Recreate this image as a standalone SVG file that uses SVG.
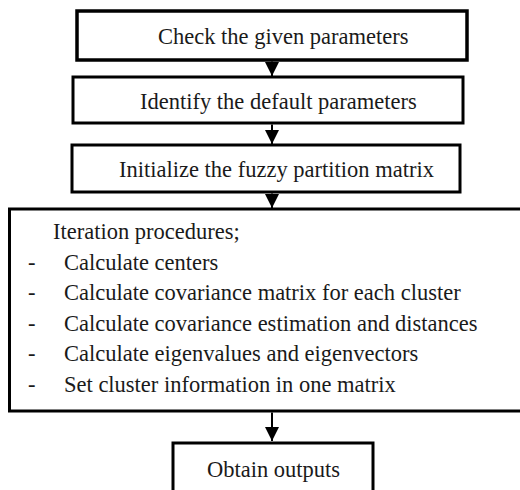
<svg xmlns="http://www.w3.org/2000/svg" width="520" height="490" viewBox="0 0 520 490">
<style>
.box{fill:#fff;stroke:#000;stroke-width:3}
.t{font-family:"Liberation Serif","Times New Roman",serif;font-size:22.5px;fill:#1a1a1a}
.c{stroke:#000;stroke-width:2;fill:none}
</style>
<defs>
<marker id="ah" markerUnits="userSpaceOnUse" markerWidth="14" markerHeight="14" viewBox="0 0 14 14" refX="14" refY="7" orient="auto">
<path d="M0,0 L14,7 L0,14 Z" fill="#000"/>
</marker>
</defs>
<rect width="520" height="490" fill="#fff"/>
<g id="n1"><rect class="box" x="77" y="11" width="390" height="49" style="stroke-width:3.5"/><text class="t" x="158" y="44">Check the given parameters</text></g>
<g id="n2"><rect class="box" x="73" y="77" width="390" height="46"/><text class="t" x="140" y="109">Identify the default parameters</text></g>
<g id="n3"><rect class="box" x="72" y="145" width="388" height="47"/><text class="t" x="119" y="177">Initialize the fuzzy partition matrix</text></g>
<g id="n4"><rect class="box" x="9.5" y="209" width="520" height="202"/>
<text class="t" x="53" y="239">Iteration procedures;</text>
<text class="t" x="28" y="269.5">-</text><text class="t" x="64" y="269.5">Calculate centers</text>
<text class="t" x="28" y="300">-</text><text class="t" x="64" y="300">Calculate covariance matrix for each cluster</text>
<text class="t" x="28" y="330.5">-</text><text class="t" x="64" y="330.5">Calculate covariance estimation and distances</text>
<text class="t" x="28" y="361">-</text><text class="t" x="64" y="361">Calculate eigenvalues and eigenvectors</text>
<text class="t" x="28" y="391.5">-</text><text class="t" x="64" y="391.5">Set cluster information in one matrix</text>
</g>
<g id="n5"><rect class="box" x="173" y="443" width="200" height="60"/><text class="t" x="207" y="477">Obtain outputs</text></g>
<g id="connectors">
<line class="c" x1="272" y1="61.5" x2="272" y2="76" marker-end="url(#ah)"/>
<line class="c" x1="272" y1="124.5" x2="272" y2="144" marker-end="url(#ah)"/>
<line class="c" x1="272" y1="193.5" x2="272" y2="208" marker-end="url(#ah)"/>
<line class="c" x1="272" y1="412.5" x2="272" y2="441" marker-end="url(#ah)"/>
</g>
</svg>
